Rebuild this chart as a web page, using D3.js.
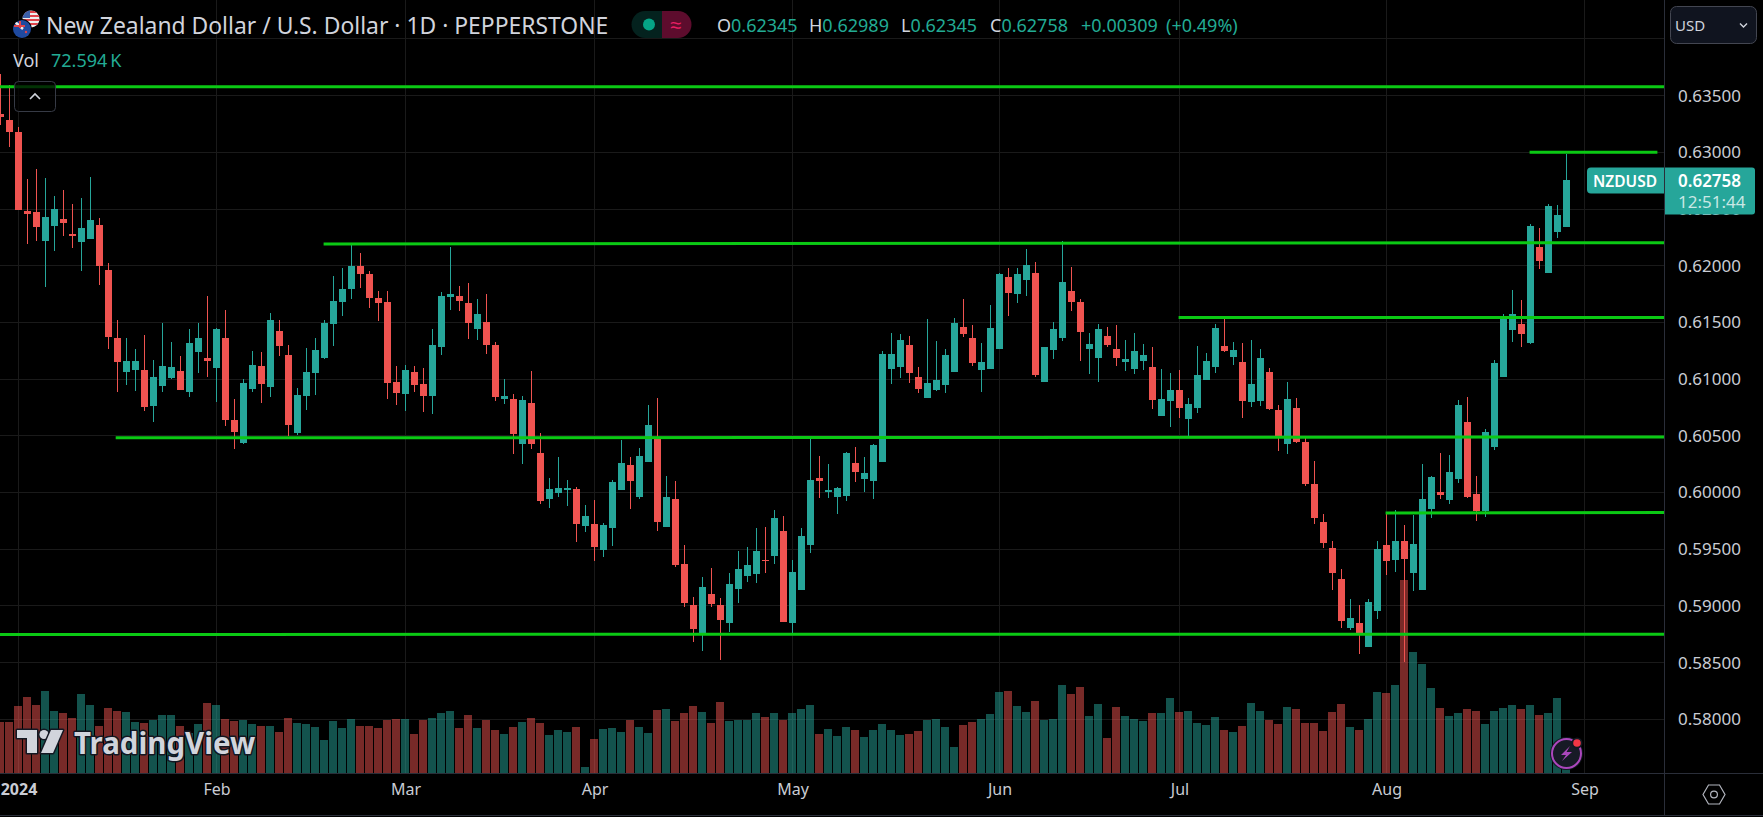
<!DOCTYPE html>
<html>
<head>
<meta charset="utf-8">
<title>NZDUSD 1D</title>
<script src="https://cdn.jsdelivr.net/npm/d3@7/dist/d3.min.js"></script>
<style>
    html, body { margin: 0; padding: 0; background: #000; overflow: hidden; }
    svg { display: block; }
    text { font-family: "Noto Sans", sans-serif; }
</style>
</head>
<body>
<svg id="chart" width="1763" height="817"></svg>
<script>
'use strict';

var opens = [
    0.63338, 0.63285, 0.63179, 0.62482, 0.62474, 0.62218, 0.62350, 0.62412, 0.62279, 0.62209,
    0.62235, 0.62359, 0.61962, 0.61362, 0.61063, 0.61080, 0.61080, 0.60763, 0.60939, 0.61010,
    0.61071, 0.60886, 0.61239, 0.61186, 0.61098, 0.61362, 0.60639, 0.60436, 0.60913, 0.61116,
    0.60930, 0.61424, 0.61212, 0.60525, 0.60851, 0.61054, 0.61186, 0.61486, 0.61680, 0.61795,
    0.61997, 0.61927, 0.61715, 0.61680, 0.60974, 0.60869, 0.61063, 0.60957, 0.60851, 0.61283,
    0.61724, 0.61733, 0.61671, 0.61442, 0.61504, 0.61301, 0.60825, 0.60825, 0.60428, 0.60789,
    0.60348, 0.59943, 0.59996, 0.60022, 0.60031, 0.59705, 0.59722, 0.59493, 0.59687, 0.60022,
    0.60242, 0.59960, 0.60269, 0.60489, 0.59696, 0.59943, 0.59369, 0.59008, 0.58752, 0.59105,
    0.59008, 0.58849, 0.59149, 0.59264, 0.59281, 0.59405, 0.59440, 0.59660, 0.58849, 0.59140,
    0.59537, 0.60128, 0.60004, 0.59960, 0.59969, 0.60260, 0.60119, 0.60101, 0.60269, 0.61089,
    0.61107, 0.61301, 0.61019, 0.60833, 0.60904, 0.60948, 0.61063, 0.61459, 0.61362, 0.61080,
    0.61089, 0.61265, 0.61900, 0.61750, 0.61874, 0.61936, 0.60974, 0.61257, 0.61362, 0.61777,
    0.61680, 0.61265, 0.61186, 0.61380, 0.61265, 0.61151, 0.61089, 0.61160, 0.61107, 0.60675,
    0.60807, 0.60904, 0.60648, 0.60745, 0.60992, 0.61107, 0.61292, 0.61195, 0.61151, 0.60798,
    0.60807, 0.61063, 0.60727, 0.60428, 0.60745, 0.60445, 0.60075, 0.59740, 0.59510, 0.59237,
    0.58805, 0.58849, 0.58638, 0.58955, 0.59537, 0.59405, 0.59572, 0.59290, 0.59140, 0.59855,
    0.60004, 0.59934, 0.60119, 0.60622, 0.59987, 0.59837, 0.60402, 0.61019, 0.61433, 0.61486,
    0.61318, 0.62165, 0.61936, 0.62297, 0.62345
];
var highs = [
    0.63690, 0.63593, 0.63223, 0.62764, 0.62853, 0.62773, 0.62615, 0.62668, 0.62544, 0.62597,
    0.62782, 0.62421, 0.62024, 0.61521, 0.61362, 0.61265, 0.61389, 0.61169, 0.61495, 0.61327,
    0.61204, 0.61442, 0.61495, 0.61733, 0.61451, 0.61609, 0.60824, 0.61001, 0.61248, 0.61239,
    0.61583, 0.61521, 0.61301, 0.60922, 0.61274, 0.61362, 0.61521, 0.61909, 0.61980, 0.62183,
    0.62112, 0.61953, 0.61777, 0.61777, 0.61116, 0.61124, 0.61116, 0.61098, 0.61442, 0.61768,
    0.62165, 0.61821, 0.61847, 0.61706, 0.61750, 0.61327, 0.61001, 0.60869, 0.60851, 0.61071,
    0.60525, 0.60128, 0.60313, 0.60110, 0.60049, 0.59890, 0.59934, 0.59731, 0.60110, 0.60463,
    0.60313, 0.60392, 0.60772, 0.60833, 0.60145, 0.60101, 0.59537, 0.59078, 0.59255, 0.59334,
    0.59070, 0.59290, 0.59484, 0.59519, 0.59687, 0.59696, 0.59846, 0.59793, 0.59405, 0.59687,
    0.60472, 0.60322, 0.60251, 0.60048, 0.60357, 0.60401, 0.60313, 0.60428, 0.61248, 0.61407,
    0.61398, 0.61380, 0.61107, 0.61530, 0.61336, 0.61265, 0.61539, 0.61706, 0.61477, 0.61318,
    0.61653, 0.61936, 0.61980, 0.61980, 0.62147, 0.62033, 0.61283, 0.61504, 0.62218, 0.61989,
    0.61706, 0.61407, 0.61486, 0.61459, 0.61477, 0.61345, 0.61407, 0.61310, 0.61283, 0.61089,
    0.61054, 0.61080, 0.60833, 0.61292, 0.61230, 0.61486, 0.61539, 0.61327, 0.61318, 0.61345,
    0.61265, 0.61098, 0.60771, 0.60974, 0.60833, 0.60489, 0.60278, 0.59810, 0.59572, 0.59325,
    0.59061, 0.59008, 0.59061, 0.59572, 0.59819, 0.59846, 0.59714, 0.59802, 0.60251, 0.60145,
    0.60348, 0.60331, 0.60816, 0.60842, 0.60145, 0.60560, 0.61169, 0.61574, 0.61786, 0.61698,
    0.62368, 0.62333, 0.62544, 0.62535, 0.62989
];
var lows = [
    0.63241, 0.63047, 0.62491, 0.62191, 0.62218, 0.61812, 0.62130, 0.62262, 0.62156, 0.61953,
    0.62235, 0.61830, 0.61265, 0.60886, 0.60948, 0.60895, 0.60719, 0.60622, 0.60886, 0.61001,
    0.60904, 0.60842, 0.61054, 0.61018, 0.60798, 0.60586, 0.60384, 0.60428, 0.60886, 0.60789,
    0.60842, 0.61204, 0.60498, 0.60507, 0.60728, 0.60860, 0.61177, 0.61292, 0.61556, 0.61706,
    0.61803, 0.61627, 0.61512, 0.60825, 0.60772, 0.60719, 0.60886, 0.60710, 0.60692, 0.61213,
    0.61609, 0.61601, 0.61354, 0.61345, 0.61221, 0.60807, 0.60780, 0.60340, 0.60251, 0.60384,
    0.59899, 0.59863, 0.59960, 0.59881, 0.59564, 0.59652, 0.59396, 0.59431, 0.59528, 0.60022,
    0.59854, 0.59943, 0.60269, 0.59660, 0.59696, 0.59343, 0.58990, 0.58682, 0.58602, 0.58990,
    0.58523, 0.58770, 0.59026, 0.59211, 0.59202, 0.59290, 0.59369, 0.58858, 0.58743, 0.59140,
    0.59466, 0.59951, 0.59951, 0.59810, 0.59925, 0.60093, 0.60004, 0.59943, 0.60269, 0.60957,
    0.61010, 0.60966, 0.60877, 0.60833, 0.60895, 0.60877, 0.61063, 0.61371, 0.61116, 0.60886,
    0.61089, 0.61265, 0.61556, 0.61671, 0.61733, 0.61019, 0.60974, 0.61177, 0.61336, 0.61601,
    0.61160, 0.61045, 0.60974, 0.61283, 0.61116, 0.61071, 0.61045, 0.61080, 0.60736, 0.60675,
    0.60578, 0.60657, 0.60489, 0.60701, 0.60992, 0.61054, 0.61239, 0.61125, 0.60657, 0.60754,
    0.60763, 0.60727, 0.60366, 0.60339, 0.60436, 0.60057, 0.59722, 0.59510, 0.59140, 0.58805,
    0.58787, 0.58576, 0.58638, 0.58885, 0.59273, 0.59299, 0.58505, 0.59131, 0.59140, 0.59775,
    0.59943, 0.59899, 0.60084, 0.59951, 0.59749, 0.59784, 0.60375, 0.61019, 0.61327, 0.61283,
    0.61310, 0.61971, 0.61936, 0.62244, 0.62345
];
var closes = [
    0.63311, 0.63179, 0.62491, 0.62456, 0.62341, 0.62429, 0.62500, 0.62376, 0.62262, 0.62332,
    0.62403, 0.61997, 0.61371, 0.61151, 0.61160, 0.61160, 0.60754, 0.61018, 0.61116, 0.61107,
    0.60904, 0.61318, 0.61362, 0.61160, 0.61442, 0.60639, 0.60533, 0.60966, 0.61124, 0.60957,
    0.61521, 0.61292, 0.60595, 0.60860, 0.61063, 0.61257, 0.61495, 0.61689, 0.61795, 0.61997,
    0.61927, 0.61715, 0.61671, 0.60966, 0.60877, 0.61080, 0.60948, 0.60851, 0.61301, 0.61733,
    0.61750, 0.61689, 0.61495, 0.61574, 0.61301, 0.60842, 0.60851, 0.60516, 0.60816, 0.60428,
    0.59925, 0.60031, 0.60040, 0.60040, 0.59722, 0.59793, 0.59519, 0.59713, 0.60093, 0.60260,
    0.60101, 0.60322, 0.60595, 0.59740, 0.59960, 0.59361, 0.59026, 0.58796, 0.59167, 0.59017,
    0.58876, 0.59193, 0.59325, 0.59361, 0.59484, 0.59396, 0.59775, 0.58858, 0.59299, 0.59616,
    0.60110, 0.60101, 0.60022, 0.60040, 0.60348, 0.60181, 0.60172, 0.60419, 0.61221, 0.61221,
    0.61345, 0.61054, 0.60913, 0.60966, 0.60992, 0.61213, 0.61495, 0.61398, 0.61142, 0.61151,
    0.61451, 0.61927, 0.61759, 0.61927, 0.62006, 0.61036, 0.61283, 0.61442, 0.61856, 0.61680,
    0.61415, 0.61310, 0.61442, 0.61301, 0.61186, 0.61177, 0.61248, 0.61213, 0.60816, 0.60825,
    0.60904, 0.60745, 0.60780, 0.61036, 0.61159, 0.61451, 0.61248, 0.61257, 0.60807, 0.60957,
    0.61186, 0.60736, 0.60489, 0.60825, 0.60445, 0.60075, 0.59775, 0.59555, 0.59290, 0.58867,
    0.58893, 0.58752, 0.59035, 0.59502, 0.59396, 0.59572, 0.59414, 0.59546, 0.59943, 0.60137,
    0.59978, 0.60181, 0.60772, 0.59960, 0.59837, 0.60534, 0.61142, 0.61548, 0.61574, 0.61398,
    0.62350, 0.62042, 0.62527, 0.62447, 0.62758
];
// volume in thousands
var volumes = [
    143.7, 143.7, 188.5, 213.7, 191.3, 230.5, 174.5, 168.9, 154.9, 222.1,
    191.3, 130.7, 182.9, 174.5, 171.7, 143.7, 140.9, 149.3, 163.3, 163.3,
    132.5, 112.0, 138.1, 196.9, 191.3, 152.1, 146.5, 149.3, 138.1, 132.5,
    132.5, 115.7, 154.9, 140.9, 138.1, 129.7, 93.3, 146.5, 126.9, 152.1,
    132.5, 132.5, 126.9, 149.3, 152.1, 152.1, 110.1, 149.3, 154.9, 168.9,
    174.5, 126.9, 163.3, 126.9, 149.3, 121.3, 110.1, 129.7, 143.7, 154.9,
    140.9, 107.3, 121.3, 115.7, 129.7, 17.7, 96.1, 124.1, 126.9, 115.7,
    149.3, 129.7, 112.9, 177.3, 180.1, 146.5, 168.9, 188.5, 171.7, 140.9,
    199.7, 146.5, 149.3, 149.3, 168.9, 157.7, 168.9, 149.3, 168.9, 180.1,
    191.3, 110.1, 124.1, 104.5, 129.7, 121.3, 101.7, 121.3, 138.1, 121.3,
    107.3, 110.1, 118.5, 149.3, 152.1, 129.7, 73.7, 135.3, 143.7, 152.1,
    166.1, 227.7, 230.5, 188.5, 171.7, 202.5, 149.3, 152.1, 247.3, 222.1,
    241.7, 160.5, 194.1, 98.9, 185.7, 160.5, 152.1, 146.5, 168.9, 168.9,
    210.9, 171.7, 174.5, 140.9, 135.3, 157.7, 121.3, 115.7, 132.5, 196.9,
    174.5, 149.3, 138.1, 185.7, 180.1, 140.9, 140.9, 118.5, 171.7, 194.1,
    128.8, 120.4, 151.2, 226.8, 224.0, 246.4, 540.4, 338.8, 305.2, 238.0,
    182.0, 159.6, 168.0, 179.2, 173.6, 137.2, 173.6, 182.0, 190.4, 179.2,
    190.4, 162.4, 168.0, 210.0, 72.594
];

var priceTicks = [0.58, 0.585, 0.59, 0.595, 0.60, 0.605, 0.61, 0.615, 0.62, 0.625, 0.63, 0.635];
var gridPrices = priceTicks.concat([0.64]);
var monthBars = [2, 24, 45, 66, 88, 111, 131, 154, 176];
var monthLabels = ['2024', 'Feb', 'Mar', 'Apr', 'May', 'Jun', 'Jul', 'Aug', 'Sep'];

// hand drawn levels, bar index where each starts and ends and price at both ends
var levelFrom = [-1, 35.9, 130.9, 12.8, 153.9, -1, 169.9];
var levelTo = [185, 185, 185, 185, 185, 185, 184.1];
var levelStart = [0.63578, 0.62191, 0.61543, 0.60482, 0.59819, 0.58748, 0.63000];
var levelEnd = [0.63578, 0.62203, 0.61543, 0.60489, 0.59824, 0.58751, 0.63000];

var headerTitle = 'New Zealand Dollar / U.S. Dollar \u00b7 1D \u00b7 PEPPERSTONE';
var ohlcLetters = ['O', 'H', 'L', 'C'];
var ohlcValues = ['0.62345', '0.62989', '0.62345', '0.62758'];

var upColor = '#26a69a', downColor = '#ef5350', levelColor = '#0bc914';
var gridColor = '#1a1a1a', axisColor = '#2a2e39', textColor = '#d1d4dc', legendTeal = '#22ab94';

var width = 1763, height = 817, paneRight = 1664, paneBottom = 773;

var svg = d3.select('#chart');
svg.append('rect').attr('width', width).attr('height', height).attr('fill', '#000');

var x = d3.scaleLinear().domain([0, 174]).range([0.5, 1566.5]);
var y = d3.scaleLinear().domain([0.58, 0.63]).range([719.3, 152.3]);
var v = d3.scaleLinear().domain([0, 600]).range([paneBottom, paneBottom - 600 / 2.8]);

var bars = d3.range(opens.length).map(function(i) {
    return {i: i, o: opens[i], h: highs[i], l: lows[i], c: closes[i], vol: volumes[i]};
});

var defs = svg.append('defs');
defs.append('clipPath').attr('id', 'pane').append('rect')
    .attr('width', paneRight).attr('height', paneBottom);

// grid
var grid = svg.append('g').attr('shape-rendering', 'crispEdges').attr('stroke', gridColor);
grid.selectAll('line.h').data(gridPrices).enter().append('line')
    .attr('class', 'h')
    .attr('x1', 0).attr('x2', paneRight)
    .attr('y1', function(d) { return Math.floor(y(d)) + 0.5; })
    .attr('y2', function(d) { return Math.floor(y(d)) + 0.5; });
grid.selectAll('line.v').data(monthBars).enter().append('line')
    .attr('class', 'v')
    .attr('y1', 0).attr('y2', paneBottom)
    .attr('x1', function(d) { return x(d); })
    .attr('x2', function(d) { return x(d); });

var pane = svg.append('g').attr('clip-path', 'url(#pane)');

// volume
pane.append('g').attr('shape-rendering', 'crispEdges').selectAll('rect').data(bars).enter().append('rect')
    .attr('x', function(d) { return x(d.i) - 4.5; })
    .attr('width', 8)
    .attr('y', function(d) { return v(d.vol); })
    .attr('height', function(d) { return paneBottom - v(d.vol); })
    .attr('fill', function(d) { return d.c >= d.o ? upColor : downColor; })
    .attr('opacity', 0.5);

// candles
var candle = pane.append('g').attr('shape-rendering', 'crispEdges').selectAll('g').data(bars).enter().append('g')
    .attr('fill', function(d) { return d.c >= d.o ? upColor : downColor; });
candle.append('rect')
    .attr('x', function(d) { return x(d.i) - 0.5; })
    .attr('width', 1)
    .attr('y', function(d) { return y(d.h); })
    .attr('height', function(d) { return y(d.l) - y(d.h); });
candle.append('rect')
    .attr('x', function(d) { return x(d.i) - 3.5; })
    .attr('width', 7)
    .attr('y', function(d) { return y(Math.max(d.o, d.c)); })
    .attr('height', function(d) { return Math.max(1, Math.abs(y(d.o) - y(d.c))); });

// levels
var levels = pane.append('g').selectAll('line').data(levelStart).enter().append('line')
    .attr('x1', function(d, i) { return x(levelFrom[i]); })
    .attr('x2', function(d, i) { return x(levelTo[i]); })
    .attr('y1', function(d) { return y(d); })
    .attr('y2', function(d, i) { return y(levelEnd[i]); })
    .attr('stroke', levelColor)
    .attr('stroke-width', 3);

// pane borders
svg.append('g').attr('shape-rendering', 'crispEdges').attr('stroke', axisColor).call(function(g) {
    g.append('line').attr('x1', 0).attr('x2', width).attr('y1', paneBottom + 0.5).attr('y2', paneBottom + 0.5);
    g.append('line').attr('x1', paneRight + 0.5).attr('x2', paneRight + 0.5).attr('y1', 0).attr('y2', 815);
    g.append('line').attr('x1', 0).attr('x2', width).attr('y1', 815.5).attr('y2', 815.5);
});

// axes
var priceAxis = d3.axisRight(y).tickValues(priceTicks).tickSize(0).tickPadding(14).tickFormat(d3.format('.5f'));
var priceG = svg.append('g').attr('transform', 'translate(' + paneRight + ',0)').call(priceAxis);
var timeAxis = d3.axisBottom(x).tickValues(monthBars).tickSize(0).tickPadding(0)
    .tickFormat(function(d) { return monthLabels[monthBars.indexOf(d)]; });
var timeG = svg.append('g').attr('transform', 'translate(0,' + (paneBottom + 11) + ')').call(timeAxis);
[priceG, timeG].forEach(function(g) {
    g.select('.domain').remove();
    g.selectAll('text').attr('fill', '#c9ccd4').attr('font-size', 17).attr('font-family', '"Noto Sans", sans-serif');
});
timeG.selectAll('text').attr('font-size', 16).attr('font-weight', function(d) { return d === monthBars[0] ? 700 : 400; });

// legend
function label(str, lx, ly, size, fill, weight, anchor) {
    return svg.append('text').attr('x', lx).attr('y', ly).attr('font-size', size)
        .attr('fill', fill).attr('font-weight', weight || 400).attr('text-anchor', anchor || 'start')
        .attr('dominant-baseline', 'central').text(str);
}
label(headerTitle, 46, 25, 22.9, textColor);
label('Vol', 13, 60, 18, textColor);
label('72.594\u2009K', 51, 60, 18, legendTeal);

var ohlcX = [717, 809, 901, 990];
ohlcLetters.forEach(function(d, i) {
    var t = svg.append('text').attr('x', ohlcX[i]).attr('y', 25).attr('font-size', 18)
        .attr('dominant-baseline', 'central');
    t.append('tspan').attr('fill', textColor).text(d);
    t.append('tspan').attr('fill', legendTeal).text(ohlcValues[i]);
});
label('+0.00309', 1081, 25, 18, legendTeal);
label('(+0.49%)', 1166, 25, 18, legendTeal);

// market status pill
svg.append('path').attr('d', 'M662,11H645a13.5,13.5 0 0 0 0,27H662Z').attr('fill', '#04221e');
svg.append('path').attr('d', 'M662,11H678a13.5,13.5 0 0 1 0,27H662Z').attr('fill', '#5d0c2d');
svg.append('circle').attr('cx', 649).attr('cy', 24.5).attr('r', 6).attr('fill', '#05a586');
label('\u2248', 676, 24, 20, '#e91e63', 400, 'middle');

// flags
var flagUs = defs.append('clipPath').attr('id', 'flagUs');
flagUs.append('circle').attr('cx', 31).attr('cy', 19).attr('r', 8.5);
var flagNz = defs.append('clipPath').attr('id', 'flagNz');
flagNz.append('circle').attr('cx', 22).attr('cy', 29).attr('r', 9);
var us = svg.append('g').attr('clip-path', 'url(#flagUs)');
us.append('rect').attr('x', 20).attr('y', 8).attr('width', 24).attr('height', 24).attr('fill', '#eee');
d3.range(5).forEach(function(i) {
    us.append('rect').attr('x', 20).attr('y', 11 + i * 4).attr('width', 24).attr('height', 2).attr('fill', '#e0434b');
});
us.append('rect').attr('x', 20).attr('y', 8).attr('width', 10).attr('height', 10).attr('fill', '#3c5fa8');
svg.append('circle').attr('cx', 22).attr('cy', 29).attr('r', 10).attr('fill', '#000');
var nz = svg.append('g').attr('clip-path', 'url(#flagNz)');
nz.append('rect').attr('x', 10).attr('y', 17).attr('width', 24).attr('height', 24).attr('fill', '#1f4aa0');
nz.append('path').attr('d', 'M14,21L23,29').attr('stroke', '#eee').attr('stroke-width', 2.5);
nz.append('path').attr('d', 'M20,21V28M14,26H25').attr('stroke', '#e0434b').attr('stroke-width', 2);
nz.append('circle').attr('cx', 26).attr('cy', 32).attr('r', 1.2).attr('fill', '#e0434b');

// collapse button
svg.append('rect').attr('x', 14.5).attr('y', 81.5).attr('width', 41).attr('height', 30).attr('rx', 4)
    .attr('fill', 'rgba(0,0,0,0.75)').attr('stroke', '#363a45');
svg.append('path').attr('d', 'M30,99L35,94L40,99').attr('fill', 'none')
    .attr('stroke', '#d1d4dc').attr('stroke-width', 1.6);

// currency button
svg.append('rect').attr('x', 1670.5).attr('y', 6.5).attr('width', 86).attr('height', 37).attr('rx', 6)
    .attr('fill', '#10141f').attr('stroke', '#434651');
label('USD', 1675, 25, 15, textColor);
svg.append('path').attr('d', 'M1740,23.5L1743.5,27L1747,23.5').attr('fill', 'none')
    .attr('stroke', '#d1d4dc').attr('stroke-width', 1.4);

// last price tags
svg.append('path').attr('d', 'M1664,167.5H1591a4,4 0 0 0 -4,4V189.5a4,4 0 0 0 4,4H1664Z').attr('fill', upColor);
svg.append('path').attr('d', 'M1665,167.5H1752a3,3 0 0 1 3,3V211.5a3,3 0 0 1 -3,3H1665Z').attr('fill', upColor);
label('NZDUSD', 1593, 180.5, 15.5, '#fff', 600);
label('0.62758', 1678, 180.5, 17, '#fff', 600);
label('12:51:44', 1678, 201.5, 17, 'rgba(255,255,255,0.75)');

// watermark
var logo = svg.append('g').attr('fill', '#d1d4dc').attr('stroke', '#131722').attr('stroke-width', 3)
    .attr('paint-order', 'stroke').attr('stroke-linejoin', 'round');
logo.append('path').attr('d', 'M17,730H37V753H27V738H17Z');
logo.append('circle').attr('cx', 44).attr('cy', 734.5).attr('r', 4.5);
logo.append('path').attr('d', 'M51,730H63L53,753H41Z');
logo.append('text').attr('x', 74).attr('y', 742).attr('font-size', 29.5).attr('font-weight', 700)
    .attr('dominant-baseline', 'central').text('TradingView');

// lightning badge
svg.append('circle').attr('cx', 1566.5).attr('cy', 753.5).attr('r', 16.5).attr('fill', '#131722');
svg.append('circle').attr('cx', 1566.5).attr('cy', 753.5).attr('r', 14.5).attr('fill', '#171a26')
    .attr('stroke', '#ab47bc').attr('stroke-width', 2);
svg.append('path').attr('d', 'M1570,746L1561,755H1566L1562,761L1572,752H1566.5Z').attr('fill', '#ab47bc');
svg.append('circle').attr('cx', 1577).attr('cy', 743).attr('r', 5.5).attr('fill', '#131722');
svg.append('circle').attr('cx', 1577).attr('cy', 743).attr('r', 3.8).attr('fill', '#f23645');

// settings icon
svg.append('path').attr('d', 'M1703,794.5L1708.5,785H1719.5L1725,794.5L1719.5,804H1708.5Z')
    .attr('fill', 'none').attr('stroke', '#b2b5be').attr('stroke-width', 1.2);
svg.append('circle').attr('cx', 1714).attr('cy', 794.5).attr('r', 3.4)
    .attr('fill', 'none').attr('stroke', '#b2b5be').attr('stroke-width', 1.2);
</script>
</body>
</html>
